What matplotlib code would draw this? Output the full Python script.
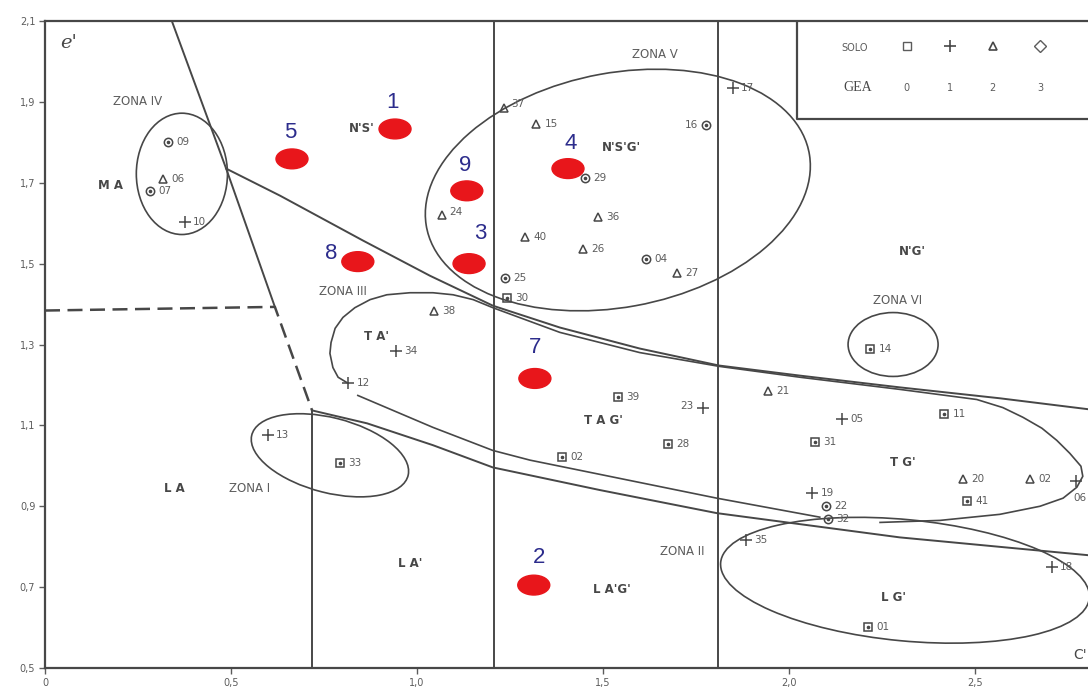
import numpy as np
import matplotlib.pyplot as plt
from matplotlib.patches import Ellipse

# --- soil samples, one list per GEA class (marker shape) ---
gea0_ids = ['30', '39', '28', '02', '33', '31', '11', '41', '01', '14']
gea0_x = [1.242, 1.540, 1.675, 1.390, 0.793, 2.070, 2.417, 2.478, 2.212, 2.218]
gea0_y = [1.416, 1.169, 1.053, 1.021, 1.006, 1.060, 1.127, 0.912, 0.601, 1.290]

gea1_ids = ['10', '17', '34', '12', '23', '05', '13', '19', '35', '18', '06']
gea1_x = [0.376, 1.849, 0.944, 0.815, 1.769, 2.142, 0.599, 2.062, 1.884, 2.707, 2.772]
gea1_y = [1.604, 1.935, 1.285, 1.204, 1.144, 1.115, 1.075, 0.932, 0.816, 0.749, 0.962]

gea2_ids = ['06', '37', '15', '24', '36', '40', '26', '27', '38', '21', '20', '02']
gea2_x = [0.317, 1.234, 1.320, 1.067, 1.487, 1.290, 1.446, 1.699, 1.046, 1.944, 2.468, 2.648]
gea2_y = [1.710, 1.885, 1.846, 1.621, 1.616, 1.567, 1.535, 1.478, 1.384, 1.186, 0.967, 0.967]

gea3_ids = ['09', '07', '16', '29', '04', '25', '22', '32']
gea3_x = [0.331, 0.282, 1.777, 1.452, 1.616, 1.237, 2.100, 2.105]
gea3_y = [1.801, 1.680, 1.843, 1.712, 1.512, 1.465, 0.900, 0.868]

# --- new samples (red) ---
amostra_ids = ['1', '5', '9', '4', '3', '8', '7', '2']
amostra_x = [0.941, 0.664, 1.134, 1.406, 1.140, 0.841, 1.317, 1.314]
amostra_y = [1.833, 1.759, 1.680, 1.735, 1.500, 1.505, 1.216, 0.705]

# --- class boundaries (c', e') ---
diag_x = [0.341, 0.487, 0.618]
diag_y = [2.100, 1.735, 1.393]

dash_x = [0.0, 0.618, 0.718]
dash_y = [1.384, 1.393, 1.137]

upper_x = [0.487, 0.632, 0.855, 1.035, 1.204, 1.384, 1.599, 1.812, 2.030, 2.298, 2.567, 2.804]
upper_y = [1.735, 1.668, 1.557, 1.470, 1.396, 1.342, 1.290, 1.248, 1.223, 1.194, 1.167, 1.140]

lower_x = [0.718, 0.866, 1.043, 1.204, 1.492, 1.806, 2.298, 2.804]
lower_y = [1.137, 1.105, 1.051, 0.996, 0.940, 0.883, 0.823, 0.779]

# zona III outline (TA' / TAG' / TG')
z3_x = [0.815, 0.788, 0.774, 0.766, 0.769, 0.780, 0.801, 0.833, 0.874, 0.919, 0.981,
        1.043, 1.097, 1.151, 1.204, 1.384, 1.599, 1.812, 2.030, 2.298, 2.505, 2.575,
        2.629, 2.680, 2.720, 2.755, 2.785, 2.790, 2.774, 2.737, 2.675, 2.567, 2.406, 2.245]
z3_y = [1.204, 1.219, 1.243, 1.278, 1.305, 1.340, 1.367, 1.391, 1.411, 1.423, 1.428,
        1.428, 1.423, 1.411, 1.391, 1.330, 1.280, 1.246, 1.219, 1.189, 1.164, 1.144,
        1.120, 1.093, 1.063, 1.031, 0.999, 0.974, 0.947, 0.920, 0.900, 0.880, 0.865, 0.860]
z3_low_x = [0.841, 1.043, 1.204, 1.304, 1.806, 2.083]
z3_low_y = [1.174, 1.095, 1.038, 1.014, 0.920, 0.873]

v1_x, v2_x, v3_x = 0.718, 1.207, 1.809
box_x, box_y = 2.022, 1.858

ink = '#474747'
soft = '#5c5c5c'

fig = plt.figure(figsize=(10.88, 6.95), dpi=100)
ax = fig.add_axes([45 / 1088, 27 / 695, 1043 / 1088, 647 / 695])
ax.set_xlim(0, 2.804)
ax.set_ylim(0.5, 2.1)

for s in ['left', 'bottom', 'top']:
    ax.spines[s].set_color(ink)
    ax.spines[s].set_linewidth(1.6)
ax.spines['right'].set_visible(False)

ax.set_xticks([0, 0.5, 1.0, 1.5, 2.0, 2.5])
ax.set_xticklabels(['0', '0,5', '1,0', '1,5', '2,0', '2,5'])
ax.set_yticks(np.arange(0.5, 2.11, 0.2))
ax.set_yticklabels(['0,5', '0,7', '0,9', '1,1', '1,3', '1,5', '1,7', '1,9', '2,1'])
ax.tick_params(colors=soft, labelsize=7, length=4, width=1, pad=3)

lw = 1.4
ax.plot(diag_x, diag_y, color=ink, lw=lw)
ax.plot(dash_x, dash_y, color=ink, lw=1.8, ls=(0, (6, 3)))
ax.plot([v1_x, v1_x], [0.5, dash_y[-1]], color=ink, lw=lw)
ax.plot([v2_x, v2_x], [0.5, 2.1], color=ink, lw=lw)
ax.plot([v3_x, v3_x], [0.5, 2.1], color=ink, lw=lw)
ax.plot(upper_x, upper_y, color=ink, lw=lw)
ax.plot(lower_x, lower_y, color=ink, lw=lw)
ax.plot(z3_x, z3_y, color=ink, lw=1.2)
ax.plot(z3_low_x, z3_low_y, color=ink, lw=1.2)

# zones drawn as ellipses
zonas = [
    (0.368, 1.722, 0.245, 0.300, 0),     # IV
    (1.540, 1.682, 1.045, 0.580, 9.5),   # V
    (2.280, 1.300, 0.242, 0.158, 0),     # VI
    (0.766, 1.026, 0.432, 0.186, -13),   # I
    (2.312, 0.717, 0.995, 0.300, -5),    # II
]
for cx, cy, w, h, ang in zonas:
    ax.add_patch(Ellipse((cx, cy), w, h, angle=ang, fill=False, ec=ink, lw=1.2))

# legend box
ax.plot([box_x, box_x, 2.804], [2.1, box_y, box_y], color=ink, lw=1.6)
key_x = [2.317, 2.433, 2.548, 2.675]
ax.text(2.177, 2.033, 'SOLO', fontsize=7, color=soft, ha='center', va='center')
ax.text(2.185, 1.935, 'GEA', fontsize=10, color=ink, ha='center', va='center',
        family='Liberation Serif')
for kx, lab in zip(key_x, ['0', '1', '2', '3']):
    ax.text(kx, 1.935, lab, fontsize=7, color=soft, ha='center', va='center')
ax.plot(key_x[0], 2.038, marker='s', ms=6, mfc='none', mec=soft, mew=1)
ax.plot(key_x[1], 2.038, marker='+', ms=9, mec=ink, mew=1.2)
ax.plot(key_x[2], 2.038, marker='^', ms=6, mfc='none', mec=ink, mew=1.2)
ax.plot(key_x[3], 2.038, marker='D', ms=6, mfc='none', mec=soft, mew=1)


def draw_group(ids, xs, ys, marker, ms, dot, offsets):
    ax.plot(xs, ys, ls='none', marker=marker, ms=ms, mfc='none', mec=ink, mew=1.1)
    if dot:
        ax.plot(xs, ys, ls='none', marker='o', ms=1.6, color=ink)
    for i, (x, y) in enumerate(zip(xs, ys)):
        dx, dy, ha = offsets.get(i, (6, 0, 'left'))
        ax.annotate(ids[i], (x, y), xytext=(dx, dy), textcoords='offset points',
                    fontsize=7.5, color=soft, ha=ha, va='center')


draw_group(gea0_ids, gea0_x, gea0_y, 's', 6, True, {})
draw_group(gea1_ids, gea1_x, gea1_y, '+', 9, False,
           {4: (-7, 1, 'right'), 10: (3, -12, 'center')})
draw_group(gea2_ids, gea2_x, gea2_y, '^', 6, False,
           {1: (5, 3, 'left'), 3: (5, 2, 'left')})
draw_group(gea3_ids, gea3_x, gea3_y, 'o', 6, True, {2: (-6, 0, 'right')})

# new samples
num_off = [(-2, 19), (-1, 19), (-1, 18), (2, 18), (8, 22), (-19, 6), (0, 22), (4, 20)]
for i, (x, y) in enumerate(zip(amostra_x, amostra_y)):
    ax.add_patch(Ellipse((x, y), 0.086, 0.049, color='#e8161b', zorder=5))
    ax.annotate(amostra_ids[i], (x, y), xytext=num_off[i], textcoords='offset points',
                fontsize=16, color='#2c2c8c', ha='center', va='center',
                family='Liberation Sans')

# zone names
zona_txt = [('ZONA IV', 0.250, 1.902), ('ZONA V', 1.640, 2.016), ('ZONA VI', 2.293, 1.409),
            ('ZONA III', 0.801, 1.431), ('ZONA I', 0.551, 0.944), ('ZONA II', 1.712, 0.789)]
for t, x, y in zona_txt:
    ax.text(x, y, t, fontsize=8.5, color=soft, ha='center', va='center')

# MCT class names
classes = [("M A", 0.175, 1.693), ("N'S'", 0.852, 1.833), ("N'S'G'", 1.551, 1.786),
           ("N'G'", 2.331, 1.530), ("T A'", 0.890, 1.320), ("T A G'", 1.500, 1.112),
           ("T G'", 2.306, 1.009), ("L A", 0.349, 0.944), ("L A'", 0.981, 0.759),
           ("L A'G'", 1.524, 0.693), ("L G'", 2.280, 0.675)]
for t, x, y in classes:
    ax.text(x, y, t, fontsize=8.5, color=ink, ha='center', va='center', weight='bold')

ax.text(0.040, 2.046, "e'", fontsize=14, color=ink, family='DejaVu Serif', style='italic',
        va='center')
ax.text(2.765, 0.532, "C'", fontsize=10, color=ink, va='center')

fig.savefig('out.png', dpi=100)
